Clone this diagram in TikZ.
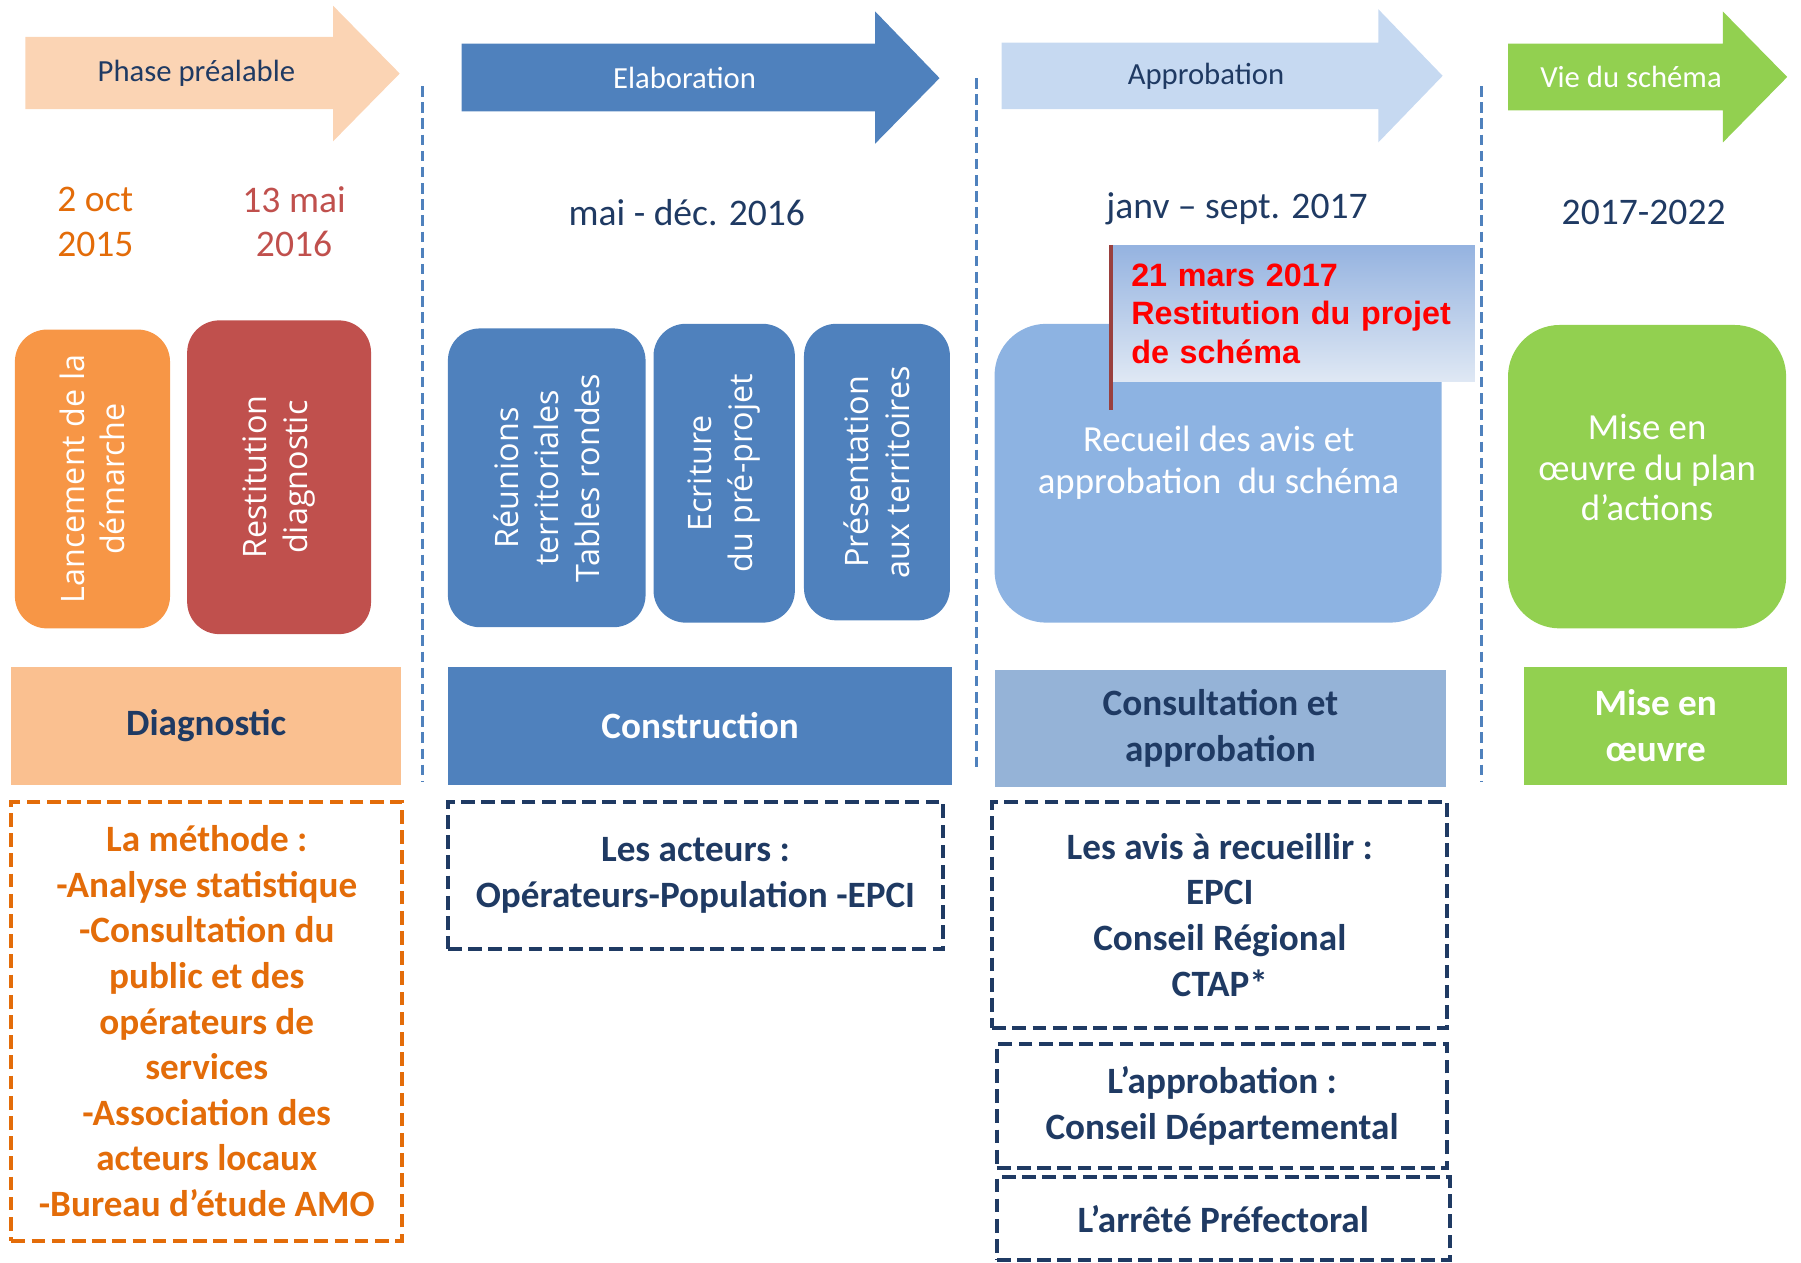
\documentclass[tikz,border=0pt]{standalone}
\usepackage{fontspec}
\setmainfont{Carlito}
\newfontfamily\vertfont{Open Sans}
\newfontfamily\calloutfont{Liberation Sans}
\usepackage{tikz}
\usetikzlibrary{positioning}
\definecolor{peach}{HTML}{FBD4B4}
\definecolor{peachbar}{HTML}{FAC090}
\definecolor{orangebox}{HTML}{F79646}
\definecolor{orangetxt}{HTML}{E36C09}
\definecolor{redbox}{HTML}{C0504D}
\definecolor{bluebox}{HTML}{4F81BD}
\definecolor{paleblue}{HTML}{C6D9F1}
\definecolor{midblue}{HTML}{8DB3E2}
\definecolor{barblue}{HTML}{95B3D7}
\definecolor{greenbox}{HTML}{92D050}
\definecolor{navy}{HTML}{1F3A63}
\definecolor{calltop}{HTML}{95B3E0}
\definecolor{callbot}{HTML}{DFE8F4}
\tikzset{
    phase/.style={font=\fontsize{7.6}{9}\selectfont},
    date/.style={align=center, font=\fontsize{9.3}{11.1}\selectfont},
    tile/.style={rectangle, rounded corners=0.28cm, rotate=90, align=center, text=white, font=\vertfont\fontsize{8}{10}\selectfont},
    bigtile/.style={rectangle, rounded corners=0.45cm},
    bar/.style={rectangle, align=center, font=\bfseries\fontsize{9.2}{11.4}\selectfont},
    dbox/.style={rectangle, draw=navy, text=navy, line width=1pt, dash pattern=on 3.4pt off 1.6pt, align=center, font=\bfseries\fontsize{9.2}{11.3}\selectfont},
    sep/.style={draw=bluebox, line width=0.7pt, dash pattern=on 2.6pt off 1.4pt},
    callout/.style={rectangle, top color=calltop, bottom color=callbot, align=left, text=red, inner xsep=0.19cm, font=\calloutfont\bfseries\fontsize{8}{9.5}\selectfont}
}
\begin{document}
\begin{tikzpicture}[x=0.01cm, y=-0.01cm]
        \useasboundingbox (0,0) rectangle (1568,1099);

        % Phase arrows
        \fill[peach] (22,32) -- (290,32) -- (290,5) -- (348,64) -- (290,123) -- (290,95) -- (22,95) -- cycle;
        \fill[bluebox] (402,38) -- (762,38) -- (762,10) -- (818,68) -- (762,125) -- (762,97) -- (402,97) -- cycle;
        \fill[paleblue] (872,37) -- (1200,37) -- (1200,8) -- (1256,66) -- (1200,124) -- (1200,95) -- (872,95) -- cycle;
        \fill[greenbox] (1313,38) -- (1500,38) -- (1500,10) -- (1556,67) -- (1500,124) -- (1500,96) -- (1313,96) -- cycle;
        \node (prealable) [phase, text=navy] at (171,64) {Phase préalable};
        \node (elaboration) [phase, text=white] at (596,68) {Elaboration};
        \node (approbation) [phase, text=navy] at (1050,66) {Approbation};
        \node (vie) [phase, text=white] at (1420,67) {Vie du schéma};

        % Separators
        \draw[sep] (368,75) -- (368,680);
        \draw[sep] (850,68) -- (850,672);
        \draw[sep] (1290,75) -- (1290,680);

        % Dates
        \node (d_oct) [date, text=orangetxt] at (83,193) {2 oct\\2015};
        \node (d_mai) [date, text=redbox] at (256,193) {13 mai\\2016};
        \node (d_elab) [date, text=navy] at (598,185) {mai - déc. 2016};
        \node (d_approb) [date, text=navy] at (1077,182) {janv -- sept. 2017};
        \node (d_vie) [date, text=navy] at (1431,185) {2017-2022};

        % Steps
        \node (lancement) [tile, fill=orangebox, minimum width=2.6cm, minimum height=1.35cm] at (80.5,417) {Lancement de la\\démarche};
        \node (restitution) [tile, fill=redbox, minimum width=2.73cm, minimum height=1.6cm] at (243,415.5) {Restitution\\diagnostic};
        \node (reunions) [tile, fill=bluebox, minimum width=2.6cm, minimum height=1.72cm] at (476,416) {Réunions\\territoriales\\Tables rondes};
        \node (ecriture) [tile, fill=bluebox, minimum width=2.6cm, minimum height=1.23cm] at (630.5,412) {Ecriture\\du pré-projet};
        \node (presentation) [tile, fill=bluebox, minimum width=2.58cm, minimum height=1.27cm] at (763.5,411) {Présentation\\aux territoires};
        \node (recueil) [bigtile, fill=midblue, minimum width=3.89cm, minimum height=2.6cm] at (1060.5,412) {};
        \node (recueil_txt) [date, text=white, font=\fontsize{9.1}{10.3}\selectfont] at (1061,403) {Recueil des avis et\\approbation\ \ du schéma};
        \node (plan) [bigtile, fill=greenbox, minimum width=2.42cm, minimum height=2.64cm] at (1434,415) {};
        \node (plan_txt) [date, text=white, font=\fontsize{9.1}{10.1}\selectfont] at (1434,407) {Mise en\\\oe uvre du plan\\d’actions};

        % Callout
        \node (restit_projet) [callout, minimum width=3.18cm, minimum height=1.18cm, text width=2.8cm] at (1125,273) {21 mars 2017\\Restitution du projet\\de schéma};
        \draw[redbox!80!black, line width=1.2pt] ([xshift=0.02cm]restit_projet.north west) -- ++(0,144);

        % Stages
        \node (diagnostic) [bar, fill=peachbar, text=navy, minimum width=3.39cm, minimum height=1.02cm] at (179.5,632) {Diagnostic};
        \node (construction) [bar, fill=bluebox, text=white, minimum width=4.39cm, minimum height=1.02cm] at (609.5,632) {Construction};
        \node (consultation) [bar, fill=barblue, text=navy, minimum width=3.93cm, minimum height=1.02cm] at (1062.5,634) {Consultation et\\approbation};
        \node (oeuvre) [bar, fill=greenbox, text=white, minimum width=2.29cm, minimum height=1.02cm] at (1441.5,632) {Mise en\\\oe uvre};

        % Details
        \node (methode) [dbox, draw=orangetxt, text=orangetxt, minimum width=3.4cm, minimum height=3.82cm] at (180,889) {La méthode :\\-Analyse statistique\\-Consultation du\\public et des\\opérateurs de\\services\\-Association des\\acteurs locaux\\-Bureau d’étude AMO};
        \node (acteurs) [dbox, minimum width=4.31cm, minimum height=1.28cm] at (605.5,762) {Les acteurs :\\Opérateurs-Population -EPCI};
        \node (avis) [dbox, minimum width=3.96cm, minimum height=1.97cm] at (1062,796.5) {Les avis à recueillir :\\EPCI\\Conseil Régional\\CTAP*};
        \node (approb_cd) [dbox, minimum width=3.92cm, minimum height=1.08cm] at (1064,963) {L’approbation :\\Conseil Départemental};
        \node (arrete) [dbox, minimum width=3.94cm, minimum height=0.72cm] at (1065,1061) {L’arrêté Préfectoral};
    \end{tikzpicture}
\end{document}
